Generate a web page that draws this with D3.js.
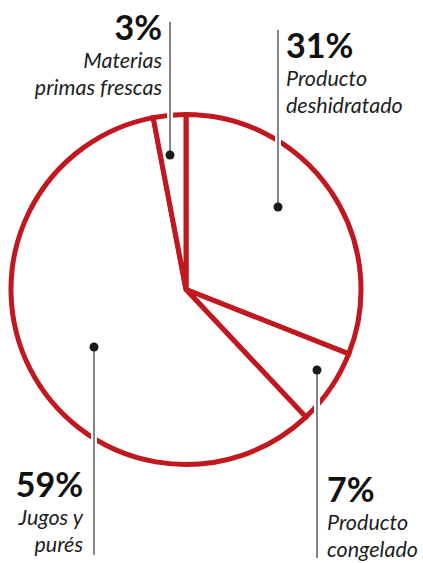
<!DOCTYPE html>
<html>
<head>
<meta charset="utf-8">
<script src="https://cdn.jsdelivr.net/npm/d3@7"></script>
<style>
  body { margin: 0; background: #fff; }
  svg { display: block; }
  .pct { font-family: Lato, sans-serif; font-weight: 700; font-size: 34px; fill: #111; }
  .lbl { font-family: Lato, sans-serif; font-style: italic; font-weight: 400; font-size: 21.5px; fill: #1e1e1e; }
</style>
</head>
<body>
<div id="chart"></div>
<script>
var w = 423;
var h = 563;

// shares in %, clockwise from the top
var categories = ["Producto deshidratado", "Producto congelado", "Jugos y purés", "Materias primas frescas"];
var values = [31, 7, 59, 3];
var pctLabels = ["31%", "7%", "59%", "3%"];
var nameLines = [["Producto", "deshidratado"], ["Producto", "congelado"], ["Jugos y", "purés"], ["Materias", "primas frescas"]];

// where each annotation sits (leader x, dot y, line end y, text anchor, text x, first baseline)
var callouts = [
  {lx: 278, dotY: 207, endY: 30,  anchor: "start", tx: 286, ty: 58},
  {lx: 317, dotY: 370, endY: 558, anchor: "start", tx: 327, ty: 502},
  {lx: 94,  dotY: 347, endY: 555, anchor: "end",   tx: 83,  ty: 497},
  {lx: 170, dotY: 155, endY: 22,  anchor: "end",   tx: 162, ty: 40}
];

var cx = 186, cy = 289.5, radius = 175;
var red = "#c1171f";

var svg = d3.select("#chart").append("svg")
    .attr("width", w)
    .attr("height", h);

var pie = d3.pie().sort(null).value(function(d) { return d; });
var arc = d3.arc().innerRadius(0).outerRadius(radius);

var g = svg.append("g").attr("transform", "translate(" + cx + "," + cy + ")");

g.selectAll("path")
    .data(pie(values))
    .enter().append("path")
    .attr("d", arc)
    .attr("fill", "#fff")
    .attr("stroke", red)
    .attr("stroke-width", 5)
    .attr("stroke-linejoin", "miter");

// leader lines, white halo under them so they cut through the ring
var lead = svg.append("g");
callouts.forEach(function(c) {
  lead.append("line")
      .attr("x1", c.lx).attr("x2", c.lx)
      .attr("y1", c.dotY).attr("y2", c.endY)
      .attr("stroke", "#fff").attr("stroke-width", 6);
});
callouts.forEach(function(c) {
  lead.append("line")
      .attr("x1", c.lx).attr("x2", c.lx)
      .attr("y1", c.dotY).attr("y2", c.endY)
      .attr("stroke", "#666").attr("stroke-width", 1.6);
  lead.append("circle")
      .attr("cx", c.lx).attr("cy", c.dotY)
      .attr("r", 4.5)
      .attr("fill", "#1a1a1a");
});

// texts
callouts.forEach(function(c, i) {
  svg.append("text")
      .attr("class", "pct")
      .attr("x", c.tx).attr("y", c.ty)
      .attr("text-anchor", c.anchor)
      .text(pctLabels[i]);
  nameLines[i].forEach(function(s, j) {
    svg.append("text")
        .attr("class", "lbl")
        .attr("x", c.tx).attr("y", c.ty + 28 + j * 27)
        .attr("text-anchor", c.anchor)
        .text(s);
  });
});
</script>
</body>
</html>
